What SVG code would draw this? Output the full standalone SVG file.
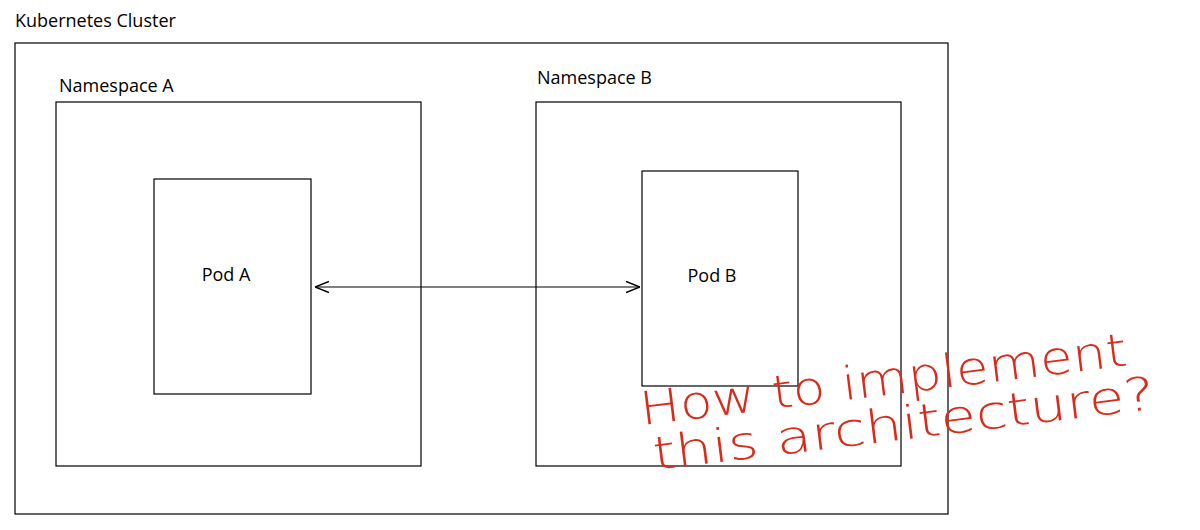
<svg xmlns="http://www.w3.org/2000/svg" width="1200" height="530" viewBox="0 0 1200 530">
<style>
.b{fill:none;stroke:#000;stroke-width:1.2}
.t{font-family:"Open Sans","Liberation Sans",sans-serif;font-size:18px;fill:#000}
.h{font-family:"DejaVu Sans","Liberation Sans",sans-serif;font-size:46px;fill:#d92b1c;font-weight:200}
</style>
<defs>
<marker id="a" viewBox="0 0 10 10" refX="10" refY="5" markerWidth="14" markerHeight="14" markerUnits="userSpaceOnUse" orient="auto-start-reverse">
<path d="M0,1 L10,5 L0,9" fill="none" stroke="#000" stroke-width="1"/>
</marker>
</defs>
<rect width="1200" height="530" fill="#fff"/>
<g id="cluster"><rect class="b" x="15" y="43" width="933" height="471"/><text class="t" x="15" y="27">Kubernetes Cluster</text></g>
<g id="nsA"><rect class="b" x="56" y="102" width="365" height="364"/><text class="t" x="59" y="92">Namespace A</text></g>
<g id="nsB"><rect class="b" x="536" y="102" width="365" height="364"/><text class="t" x="537" y="84">Namespace B</text></g>
<g id="podA"><rect class="b" x="154" y="179" width="157" height="215"/><text class="t" x="226" y="281" text-anchor="middle">Pod A</text></g>
<g id="podB"><rect class="b" x="642" y="171" width="156" height="215"/><text class="t" x="712" y="282" text-anchor="middle">Pod B</text></g>
<g id="connectors"><line x1="315" y1="287" x2="640" y2="287" stroke="#000" stroke-width="1" marker-start="url(#a)" marker-end="url(#a)"/></g>
<g id="note">
<text class="h" transform="translate(642,425) rotate(-7)" textLength="490" lengthAdjust="spacingAndGlyphs">How to implement</text>
<text class="h" transform="translate(655,470) rotate(-7)" textLength="505" lengthAdjust="spacingAndGlyphs">this architecture?</text>
</g>
</svg>
